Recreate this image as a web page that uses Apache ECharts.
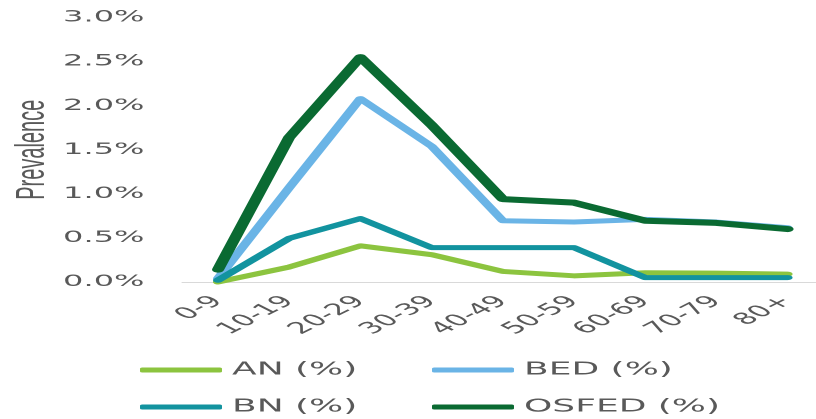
<!DOCTYPE html>
<html>
<head>
<meta charset="utf-8">
<script src="https://cdn.jsdelivr.net/npm/echarts@6/dist/echarts.min.js"></script>
<style>
  html, body { margin: 0; padding: 0; background: #fff; overflow: hidden; }
  /* the chart is laid out at half width and widened 2x horizontally */
  #wrap { width: 408px; height: 419px; transform: scaleX(2); transform-origin: 0 0; }
  #chart { width: 408px; height: 419px; }
</style>
</head>
<body>
<div id="wrap"><div id="chart"></div></div>
<script>
// Age groups
const ageGroups = ['0-9', '10-19', '20-29', '30-39', '40-49', '50-59', '60-69', '70-79', '80+'];

// Prevalence (%) per eating disorder type
const anValues    = [0.00, 0.17, 0.41, 0.31, 0.12, 0.07, 0.105, 0.10, 0.09];
const bedValues   = [0.04, 1.07, 2.08, 1.54, 0.695, 0.68, 0.71, 0.68, 0.615];
const bnValues    = [0.02, 0.495, 0.72, 0.39, 0.39, 0.39, 0.05, 0.05, 0.05];
const osfedValues = [0.14, 1.64, 2.55, 1.78, 0.94, 0.90, 0.695, 0.67, 0.60];

const seriesNames = ['AN (%)', 'BED (%)', 'BN (%)', 'OSFED (%)'];
const seriesColors = ['#8cc43f', '#6ab4e6', '#12939f', '#0a6a32'];
const seriesWidths = [5, 5, 5, 6];
const seriesValues = [anValues, bedValues, bnValues, osfedValues];

const textColor = '#595959';
const tickFont = 'DejaVu Sans, Verdana, sans-serif';

const chart = echarts.init(document.getElementById('chart'), null, { renderer: 'canvas', devicePixelRatio: 2 });

// one legend block per entry, laid out as a 2x2 table
const legendPos = [
  { left: 70,  top: 361 },
  { left: 216, top: 361 },
  { left: 70,  top: 398 },
  { left: 216, top: 398 }
];
const legends = seriesNames.map((name, i) => ({
  data: [name],
  left: legendPos[i].left,
  top: legendPos[i].top,
  icon: 'roundRect',
  itemWidth: 41,
  itemHeight: 5,
  padding: 0,
  selectedMode: false,
  textStyle: { color: textColor, fontSize: 18, fontFamily: tickFont }
}));

chart.setOption({
  animation: false,
  backgroundColor: '#ffffff',
  grid: {
    left: 91.2,
    top: 17.5,
    width: 320.4,
    height: 264.5,
    outerBoundsMode: 'none',
    containLabel: false
  },
  legend: legends,
  xAxis: {
    type: 'category',
    data: ageGroups,
    boundaryGap: true,
    axisLine: { show: true, lineStyle: { color: '#d9d9d9', width: 1 } },
    axisTick: { show: false },
    axisLabel: {
      rotate: 45,
      margin: 17,
      interval: 0,
      color: textColor,
      fontSize: 16,
      fontFamily: tickFont
    }
  },
  yAxis: {
    type: 'value',
    min: 0,
    max: 3,
    interval: 0.5,
    name: 'Prevalence',
    nameLocation: 'middle',
    nameRotate: 90,
    nameGap: 64.5,
    nameMoveOverlap: false,
    nameTextStyle: {
      color: textColor,
      fontSize: 20,
      fontFamily: 'Liberation Sans Narrow, Liberation Sans, Arial, sans-serif'
    },
    axisLine: { show: false },
    axisTick: { show: false },
    splitLine: { show: false },
    axisLabel: {
      margin: 19,
      color: textColor,
      fontSize: 16,
      fontFamily: tickFont,
      formatter: v => v.toFixed(1) + '%'
    }
  },
  series: seriesNames.map((name, i) => ({
    name: name,
    type: 'line',
    data: seriesValues[i],
    symbol: 'none',
    color: seriesColors[i],
    lineStyle: { color: seriesColors[i], width: seriesWidths[i], cap: 'round', join: 'round' }
  }))
});
</script>
</body>
</html>
